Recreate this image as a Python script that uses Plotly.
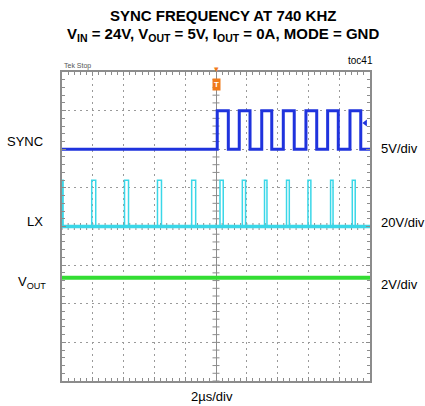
import numpy as np
import plotly.graph_objects as go

# ---------------- data (read from the scope capture) ----------------
# time axis: 2 us/div, 10 divisions, trigger at centre (t = 0)
t_start, t_end = -10.0, 10.0

# SYNC (5V/div): 0 V before trigger, then a 0/5 V square wave
sync_rise_us = [0.08, 1.51, 2.97, 4.37, 5.84, 7.25, 8.70]
sync_fall_us = [0.80, 2.21, 3.62, 5.08, 6.54, 7.94, 9.40]
sync_low_v, sync_high_v = 0.0, 5.0
sync_scale_v_div, sync_pos_div = 5.0, 2.0

# LX (20V/div): switching pulses to VIN = 24 V
lx_rise_us = [-10.0, -8.07, -5.94, -3.80, -1.58, 0.26, 1.71, 3.15, 4.58, 5.97, 7.44, 8.85]
lx_fall_us = [-9.93, -7.81, -5.68, -3.54, -1.32, 0.47, 1.92, 3.31, 4.76, 6.16, 7.60, 9.04]
lx_low_v, lx_high_v = 0.0, 24.0
lx_scale_v_div, lx_pos_div = 20.0, 0.0

# VOUT (2V/div): flat
vout_v = 3.35
vout_scale_v_div, vout_pos_div = 2.0, -3.0

trig_level_v = 3.4  # on SYNC

# ---------------- colours / fonts ----------------
C_SYNC = "#1f33dd"
C_LX = "#3ad7e8"
C_VOUT = "#33dd33"
C_GRID = "#9a9a9a"
C_FRAME = "#8c8c8c"
FONT = "Liberation Sans, Arial, sans-serif"

W, H = 425, 406
L, R, T, B = 62, 55, 72, 25
PW, PH = W - L - R, H - T - B


def px(xp):
    return (xp - L) / PW


def py(yp):
    return (H - B - yp) / PH


def square(rises, falls, lo, hi):
    xs, ys = [t_start], [lo]
    for r, f in zip(rises, falls):
        xs += [r, r, f, f]
        ys += [lo, hi, hi, lo]
    xs.append(t_end)
    ys.append(lo)
    return np.array(xs), np.array(ys)


fig = go.Figure()

# centre-cross tick marks (graticule)
gx = np.arange(t_start, t_end + 1e-9, 0.4)
gy = np.arange(-4, 4 + 1e-9, 0.2)
fig.add_trace(go.Scatter(x=gx, y=np.zeros_like(gx), mode="markers",
                         marker=dict(symbol="line-ns-open", size=5, color=C_FRAME,
                                     line=dict(width=1, color=C_FRAME)),
                         hoverinfo="skip", showlegend=False))
fig.add_trace(go.Scatter(x=np.zeros_like(gy), y=gy, mode="markers",
                         marker=dict(symbol="line-ew-open", size=5, color=C_FRAME,
                                     line=dict(width=1, color=C_FRAME)),
                         hoverinfo="skip", showlegend=False))

# VOUT
fig.add_trace(go.Scatter(x=[t_start, t_end],
                         y=[vout_v / vout_scale_v_div + vout_pos_div] * 2,
                         mode="lines", line=dict(color=C_VOUT, width=4),
                         hoverinfo="skip", showlegend=False))

# LX
lx_x, lx_y = square(lx_rise_us, lx_fall_us, lx_low_v, lx_high_v)
fig.add_trace(go.Scatter(x=lx_x, y=lx_y / lx_scale_v_div + lx_pos_div, mode="lines",
                         line=dict(color=C_LX, width=1.5), hoverinfo="skip", showlegend=False))
fig.add_trace(go.Scatter(x=[t_start, t_end], y=[lx_low_v / lx_scale_v_div + lx_pos_div] * 2, mode="lines",
                         line=dict(color=C_LX, width=3.5), hoverinfo="skip", showlegend=False))

# SYNC
s_x, s_y = square(sync_rise_us, sync_fall_us, sync_low_v, sync_high_v)
fig.add_trace(go.Scatter(x=s_x, y=s_y / sync_scale_v_div + sync_pos_div, mode="lines",
                         line=dict(color=C_SYNC, width=3), hoverinfo="skip", showlegend=False))

# channel ground markers at left edge
fig.add_trace(go.Scatter(x=[t_start - 0.12] * 3, y=[sync_pos_div, lx_pos_div, vout_pos_div],
                         mode="markers", cliponaxis=False,
                         marker=dict(symbol="triangle-right", size=5, color=[C_SYNC, C_LX, C_VOUT]),
                         hoverinfo="skip", showlegend=False))
# trigger level marker at right edge
fig.add_trace(go.Scatter(x=[t_end - 0.3], y=[trig_level_v / sync_scale_v_div + sync_pos_div],
                         mode="markers", cliponaxis=False,
                         marker=dict(symbol="triangle-left", size=6, color=C_SYNC),
                         hoverinfo="skip", showlegend=False))

axis_common = dict(showticklabels=False, showgrid=True, gridcolor=C_GRID, gridwidth=1,
                   griddash="2px,4px", zeroline=True, zerolinecolor=C_FRAME, zerolinewidth=1,
                   showline=True, linecolor=C_FRAME, linewidth=2, mirror="ticks",
                   ticks="inside", ticklen=4, tickcolor=C_FRAME, fixedrange=True,
                   showspikes=False)

fig.update_xaxes(range=[t_start, t_end], dtick=2, tick0=0,
                 minor=dict(ticks="inside", ticklen=3, dtick=0.4, tickcolor=C_FRAME, showgrid=False),
                 **axis_common)
fig.update_yaxes(range=[-4, 4], dtick=1, tick0=0,
                 minor=dict(ticks="inside", ticklen=3, dtick=0.2, tickcolor=C_FRAME, showgrid=False),
                 **axis_common)

ann = []
ann.append(dict(x=px(223), y=py(15), text="<b>SYNC FREQUENCY AT 740 KHZ</b>",
                font=dict(size=15, family=FONT, color="black")))
ann.append(dict(x=px(223), y=py(35),
                text="<b>V<sub>IN</sub> = 24V, V<sub>OUT</sub> = 5V, I<sub>OUT</sub> = 0A, MODE = GND</b>",
                font=dict(size=15, family=FONT, color="black")))
ann.append(dict(x=px(360), y=py(60), text="toc41", font=dict(size=10, family=FONT, color="black")))
ann.append(dict(x=px(212), y=py(396), text="2µs/div", font=dict(size=13, family=FONT, color="black")))
ann.append(dict(x=px(45), y=py(141.5), text="SYNC", xanchor="right",
                font=dict(size=13, family=FONT, color="black")))
ann.append(dict(x=px(45), y=py(221), text="LX", xanchor="right",
                font=dict(size=13, family=FONT, color="black")))
ann.append(dict(x=px(48), y=py(282), text="V<sub>OUT</sub>", xanchor="right",
                font=dict(size=13, family=FONT, color="black")))
ann.append(dict(x=px(379), y=py(148), text="5V/div", xanchor="left",
                font=dict(size=13, family=FONT, color="black")))
ann.append(dict(x=px(379), y=py(222.5), text="20V/div", xanchor="left",
                font=dict(size=13, family=FONT, color="black")))
ann.append(dict(x=px(379), y=py(284), text="2V/div", xanchor="left",
                font=dict(size=13, family=FONT, color="black")))
ann.append(dict(x=px(62), y=py(66), text="Tek Stop", xanchor="left",
                font=dict(size=7, family=FONT, color="#555555")))
# trigger position marker
ann.append(dict(x=px(216.5), y=py(84), text="<b>T</b>", bgcolor="#f07a1a", borderpad=1,
                font=dict(size=8, family=FONT, color="white")))
ann.append(dict(x=px(216.5), y=py(69), text="▾", font=dict(size=9, family="DejaVu Sans", color="#f07a1a")))

for a in ann:
    a.setdefault("xref", "paper")
    a.setdefault("yref", "paper")
    a.setdefault("showarrow", False)
    a.setdefault("xanchor", "center")
    a.setdefault("yanchor", "middle")

fig.update_layout(width=W, height=H, margin=dict(l=L, r=R, t=T, b=B),
                  paper_bgcolor="white", plot_bgcolor="white",
                  annotations=ann, showlegend=False, hovermode=False)

fig.write_html("out.html", config={"staticPlot": True, "displayModeBar": False},
               post_script="document.body.style.margin='0';document.body.style.overflow='hidden';")
